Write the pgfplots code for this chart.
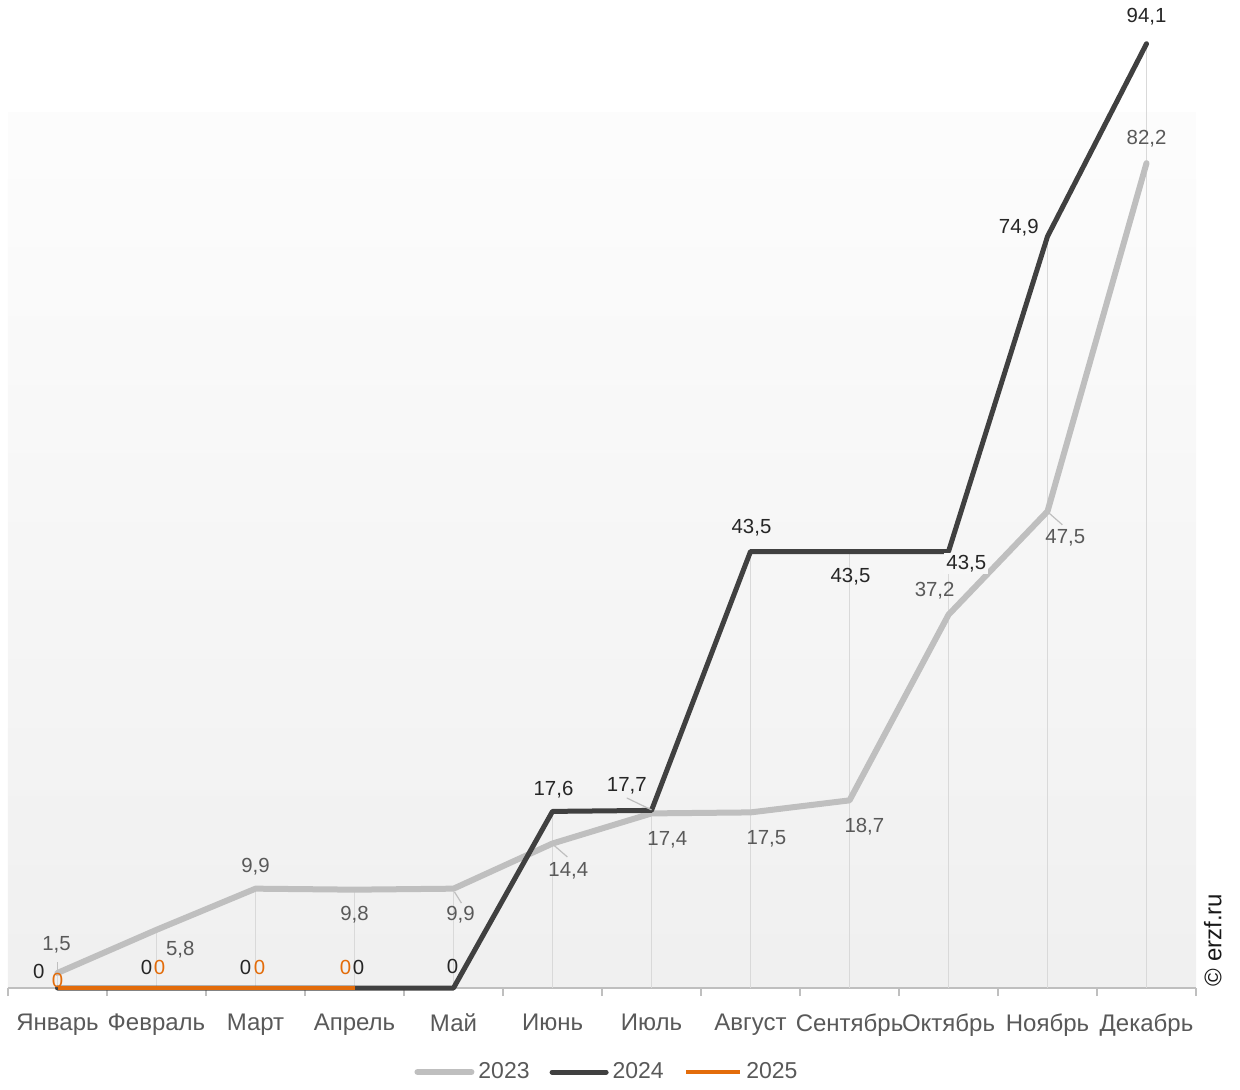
\documentclass[border=0pt]{standalone}
\usepackage{pgfplots}
\pgfplotsset{compat=1.18}
\usepackage{fontspec}
\setmainfont{Liberation Sans}
\definecolor{c23}{HTML}{BFBFBF}
\definecolor{c24}{HTML}{404040}
\definecolor{c25}{HTML}{E36C0A}
\definecolor{t23}{HTML}{595959}
\definecolor{t24}{HTML}{262626}
\definecolor{gridc}{HTML}{D9D9D9}
\newcommand{\lbl}[4]{\node[font=\fontsize{10.2}{12}\selectfont, text=#4, inner sep=1pt] at (axis cs:#1,#2) {#3};}
\begin{document}
\begin{tikzpicture}
\begin{axis}[name=ax, at={(0,0)}, anchor=south west,
 scale only axis, width=594pt, height=437.5pt,
 xmin=-0.5, xmax=11.5, ymin=0, ymax=87.2,
 clip=false,
 axis y line=none,
 axis x line=bottom,
 x axis line style={draw=c23, line width=1pt, -},
 xtick={0,...,11},
 xticklabels={Январь,Февраль,Март,Апрель,Май,Июнь,Июль,Август,Сентябрь,Октябрь,Ноябрь,Декабрь},
 major x tick style={draw=none},
 minor xtick={-0.5,0.5,...,11.5},
 minor x tick style={draw=c23, line width=0.8pt},
 tick align=outside,
 minor tick length=4pt,
 xticklabel style={font=\fontsize{12}{14}\selectfont, text=t23, yshift=-5pt},
 axis background/.style={shade, top color=white!99!black, bottom color=white!94!black},
 legend style={at={(0.505,-0.096)}, anchor=center, legend columns=3, draw=none, fill=none,
   font=\fontsize{11.5}{13}\selectfont, text=t23,
   /tikz/every even column/.append style={column sep=8pt}},
 legend image code/.code={\draw[#1] (0pt,0pt) -- (27pt,0pt);},
]
\addplot[ycomb, draw=gridc, line width=0.9pt, forget plot] coordinates {(0,1.5)(1,5.8)(2,9.9)(3,9.8)(4,9.9)(5,17.6)(6,17.7)(7,43.5)(8,43.5)(9,43.5)(10,74.9)(11,94.1)};
\addplot[c23, line width=3pt, line join=round, line cap=round] coordinates {(0,1.5)(1,5.8)(2,9.9)(3,9.8)(4,9.9)(5,14.4)(6,17.4)(7,17.5)(8,18.7)(9,37.2)(10,47.5)(11,82.2)};
\addplot[c24, line width=2.5pt, line join=round, line cap=round] coordinates {(0,0)(1,0)(2,0)(3,0)(4,0)(5,17.6)(6,17.7)(7,43.5)(8,43.5)(9,43.5)(10,74.9)(11,94.1)};
\addplot[c25, line width=2.25pt] coordinates {(0,0)(1,0)(2,0)(3,0)};
\legend{2023,2024,2025}
% leader lines
\draw[c23, line width=0.6pt] (axis cs:4.01,9.57) -- (axis cs:4.08,8.47);
\draw[c23, line width=0.6pt] (axis cs:5.01,14.26) -- (axis cs:5.15,13.06);
\draw[c23, line width=0.6pt] (axis cs:6.0,17.75) -- (axis cs:5.75,18.94);
\draw[c23, line width=0.6pt] (axis cs:10.0,47.46) -- (axis cs:10.15,46.16);
\draw[c23, line width=0.6pt] (axis cs:0,1.6) -- (axis cs:0,2.6);
% 2023 labels
\lbl{-0.01}{4.29}{1,5}{t23}
\lbl{1.24}{3.79}{5,8}{t23}
\lbl{2.0}{12.06}{9,9}{t23}
\lbl{3.0}{7.28}{9,8}{t23}
\lbl{4.07}{7.28}{9,9}{t23}
\lbl{5.16}{11.66}{14,4}{t23}
\lbl{6.16}{14.76}{17,4}{t23}
\lbl{7.16}{14.86}{17,5}{t23}
\lbl{8.15}{16.05}{18,7}{t23}
\lbl{8.86}{39.58}{37,2}{t23}
\lbl{10.18}{44.87}{47,5}{t23}
\lbl{11.0}{84.65}{82,2}{t23}
% 2024 labels
\lbl{-0.19}{1.69}{0}{t24}
\lbl{0.90}{2.09}{0}{t24}
\lbl{1.90}{2.09}{0}{t24}
\lbl{3.04}{2.09}{0}{t24}
\lbl{3.99}{2.19}{0}{t24}
\lbl{5.01}{19.74}{17,6}{t24}
\lbl{5.75}{20.14}{17,7}{t24}
\lbl{7.01}{45.86}{43,5}{t24}
\lbl{8.01}{40.98}{43,5}{t24}
\node[font=\fontsize{10.2}{12}\selectfont, text=t24, fill=white!97!black, inner sep=1pt] at (axis cs:9.18,42.27) {43,5};
\lbl{9.71}{75.77}{74,9}{t24}
\lbl{11.0}{96.81}{94,1}{t24}
% 2025 labels
\lbl{0}{0.8}{0}{c25}
\lbl{1.03}{2.09}{0}{c25}
\lbl{2.04}{2.09}{0}{c25}
\lbl{2.91}{2.09}{0}{c25}
% watermark
\node[rotate=90, font=\fontsize{12}{14}\selectfont, text=black!90] at (axis cs:11.67,4.79) {© erzf.ru};
\end{axis}
\path (ax.south west) ++(-4pt,-49pt) rectangle ++(620pt,543pt);
\end{tikzpicture}
\end{document}
